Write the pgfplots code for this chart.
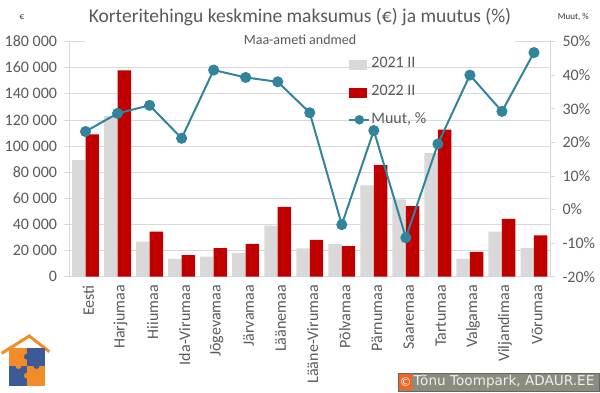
\documentclass[border=0pt]{standalone}
\usepackage{pgfplots}
\pgfplotsset{compat=1.18}
\usepackage{pgfplotstable}
\usepackage{fontspec}
\setmainfont{Carlito}
\newfontfamily\dejavu{DejaVu Sans}
\definecolor{gbar}{HTML}{D9D9D9}
\definecolor{rbar}{HTML}{C00000}
\definecolor{lteal}{HTML}{31849B}
\definecolor{txt}{HTML}{595959}
\definecolor{gridc}{HTML}{D9D9D9}
\definecolor{lorange}{HTML}{F28C28}
\definecolor{lblue}{HTML}{3D5A98}
\definecolor{cbox}{HTML}{8C8C7E}
\definecolor{corange}{HTML}{F26522}

\pgfplotstableread{
idx y21 y22 muut
0 89200 109000 23.2
1 122900 157900 28.6
2 26800 34500 31.0
3 13600 16500 21.2
4 15400 21900 41.5
5 18300 25200 39.3
6 39100 53500 38.0
7 21600 28100 28.8
8 25000 23400 -4.5
9 69900 85400 23.5
10 59200 54000 -8.4
11 94600 112600 19.5
12 13600 19000 40.0
13 34500 44300 29.2
14 21900 31600 46.7
}\data

\begin{document}
\begin{tikzpicture}
\path[use as bounding box] (-69.5pt,-115.3pt) rectangle (530.5pt,276.7pt);
\begin{axis}[
  scale only axis, width=480.5pt, height=235.2pt,
  xmin=-0.5, xmax=14.5, ymin=0, ymax=180000,
  scaled y ticks=false,
  axis y line*=left, axis x line*=bottom,
  xtick={0,...,14},
  xticklabels={Eesti,Harjumaa,Hiiumaa,Ida-Virumaa,Jõgevamaa,Järvamaa,Läänemaa,Lääne-Virumaa,Põlvamaa,Pärnumaa,Saaremaa,Tartumaa,Valgamaa,Viljandimaa,Võrumaa},
  x tick label style={rotate=90, anchor=east, font=\fontsize{16}{16}\selectfont, text=txt, yshift=-3pt},
  major x tick style={draw=none},
  ytick={0,20000,...,180000},
  yticklabels={0,20 000,40 000,60 000,80 000,100 000,120 000,140 000,160 000,180 000},
  y tick label style={font=\fontsize{16}{16}\selectfont, text=txt, xshift=-4pt},
  ymajorgrids, grid style={gridc, line width=0.8pt},
  axis line style={gridc, line width=0.8pt},
  tick style={gridc, line width=0.8pt}, tick align=outside, major tick length=5pt,
  clip=false,
]
\addplot[ybar, bar width=0.42, bar shift=-0.21, fill=gbar, draw=none] table[x=idx,y=y21]{\data};
\addplot[ybar, bar width=0.42, bar shift=0.21, fill=rbar, draw=none] table[x=idx,y=y22]{\data};
\end{axis}
\begin{axis}[
  scale only axis, width=480.5pt, height=235.2pt,
  xmin=-0.5, xmax=14.5, ymin=-20, ymax=50,
  axis y line*=right, axis x line=none,
  ytick={-20,-10,...,50},
  yticklabel={\pgfmathprintnumber{\tick}\%},
  /pgf/number format/assume math mode=true,
  y tick label style={font=\fontsize{16}{16}\selectfont, text=txt, xshift=4pt},
  axis line style={gridc, line width=0.8pt},
  tick style={gridc, line width=0.8pt}, tick align=outside, major tick length=5pt,
  legend style={at={(0.58,0.94)}, anchor=north west, draw=none, fill=none,
    font=\fontsize{16}{16}\selectfont, text=txt, row sep=12pt, inner sep=0pt,
    nodes={inner sep=1pt, text height=11pt, text depth=3pt}},
  legend cell align=left,
  clip=false,
]
\addlegendimage{legend image code/.code={\fill[gbar] (0pt,-5pt) rectangle (17pt,4pt);}}
\addlegendentry{2021 II}
\addlegendimage{legend image code/.code={\fill[rbar] (0pt,-5pt) rectangle (17pt,4pt);}}
\addlegendentry{2022 II}
\addlegendimage{legend image code/.code={\draw[lteal,line width=2pt] (0pt,0pt) -- (20pt,0pt); \fill[lteal] (10pt,0pt) circle (4.5pt);}}
\addlegendentry{Muut, \%}
\addplot[lteal, line width=2pt, mark=*, mark size=4.5pt, mark options={fill=lteal, draw=lteal}] table[x=idx,y=muut]{\data};
\end{axis}
% titles
\node[text=txt, font=\fontsize{19.5}{19.5}\selectfont] at (230.5pt,259.7pt) {Korteritehingu keskmine maksumus (€) ja muutus (\%)};
\node[fill=white, text=txt, font=\fontsize{14}{14}\selectfont, minimum width=430pt, inner sep=1pt] at (230.5pt,236.7pt) {Maa-ameti andmed};
\node[text=black!80, font=\fontsize{9}{9}\selectfont] at (-47.5pt,259.7pt) {€};
\node[text=black!80, font=\fontsize{9}{9}\selectfont] at (503.8pt,259.4pt) {Muut, \%};
% logo
\draw[lorange, line width=3pt] (-67.8pt,-76.6pt) -- (-40.2pt,-59.3pt) -- (-20.2pt,-75pt);
\fill[lorange] (-60.2pt,-71.3pt) rectangle (-42.5pt,-89.3pt);
\fill[lblue] (-42.5pt,-71.3pt) rectangle (-24.5pt,-89.3pt);
\fill[lblue] (-60.2pt,-89.3pt) rectangle (-42.5pt,-109.3pt);
\fill[lorange] (-42.5pt,-89.3pt) rectangle (-24.5pt,-109.3pt);
\fill[lblue] (-42.5pt,-80pt) circle (3pt);
\fill[lorange] (-51pt,-89.3pt) circle (3pt);
\fill[lblue] (-33pt,-89.3pt) circle (3pt);
\fill[lorange] (-42.5pt,-99pt) circle (3pt);
% copyright
\fill[cbox] (328.8pt,-114.3pt) rectangle (529.5pt,-96.3pt);
\draw[black!60, line width=0.8pt] (328.8pt,-114.3pt) rectangle (529.5pt,-96.3pt);
\fill[corange] (329.6pt,-113.5pt) rectangle (342.5pt,-97.1pt);
\node[text=white, font=\dejavu\fontsize{12}{12}\selectfont, inner sep=0pt] at (336pt,-105.3pt) {©};
\node[anchor=west, text=white!94!black, font=\dejavu\fontsize{13.6}{13.6}\selectfont, inner sep=0pt] at (344pt,-105.3pt) {Tõnu Toompark, ADAUR.EE};
\end{tikzpicture}
\end{document}
